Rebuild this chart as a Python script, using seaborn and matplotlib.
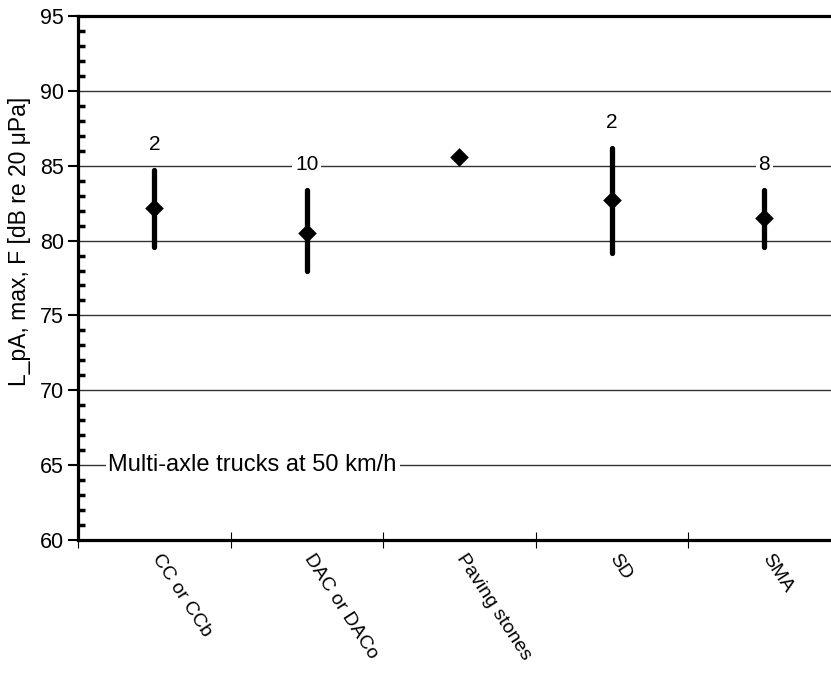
import matplotlib
matplotlib.use("Agg")
import matplotlib.pyplot as plt
from matplotlib.ticker import MultipleLocator, FixedLocator
from matplotlib.transforms import ScaledTranslation
import seaborn as sns
import pandas as pd
import numpy as np

# data
surfaces = ["CC or CCb", "DAC or DACo", "Paving stones", "SD", "SMA"]
mean_level = [82.2, 80.5, 85.6, 82.7, 81.5]
low_level = [79.6, 78.0, np.nan, 79.2, 79.6]
high_level = [84.7, 83.4, np.nan, 86.2, 83.4]
n_labels = ["2", "10", "", "2", "8"]

df = pd.DataFrame({"surface": surfaces, "mean": mean_level,
                   "low": low_level, "high": high_level, "n": n_labels})

sns.set_style("white")
plt.rcParams["font.family"] = ["Liberation Sans", "DejaVu Sans"]
plt.rcParams.update({"text.color": "black", "axes.labelcolor": "black",
                     "xtick.color": "black", "ytick.color": "black"})

fig = plt.figure(figsize=(8.31, 6.75), dpi=100)
ax = fig.add_axes([78 / 831, 135 / 675, 762.5 / 831, 524 / 675])

# grid lines
for g in [65, 70, 75, 80, 85, 90]:
    ax.axhline(g, color="#333333", lw=1.0, zorder=0)

# min-max bars
xpos = np.arange(len(surfaces))
ax.vlines(xpos, df["low"], df["high"], color="black", lw=3.8,
          capstyle="round", zorder=2)

# mean markers
sns.stripplot(data=df, x="surface", y="mean", marker="D", color="black",
              size=9.5, jitter=False, ax=ax, zorder=3)

# count labels
for i, row in df.iterrows():
    if row["n"]:
        ax.text(i, row["high"] + 1.7, row["n"], ha="center", va="center",
                fontsize=15, zorder=4,
                bbox=dict(facecolor="white", edgecolor="none", pad=2))

ax.text(-0.3, 65, "Multi-axle trucks at 50 km/h", ha="left", va="center",
        fontsize=17, zorder=4,
        bbox=dict(facecolor="white", edgecolor="none", pad=2))

ax.set_xlim(-0.5, 4.5)
ax.set_ylim(60, 95)
ax.set_xlabel("")
ax.set_ylabel("L_pA, max, F [dB re 20 μPa]", fontsize=16.5)
ax.yaxis.set_label_coords(-0.062, 0.569)

# y ticks
ax.yaxis.set_major_locator(MultipleLocator(5))
ax.yaxis.set_minor_locator(MultipleLocator(1))
ax.tick_params(axis="y", which="major", direction="out", length=7, width=1.5,
               labelsize=15.5, left=True, pad=3)
ax.tick_params(axis="y", which="minor", direction="in", length=5, width=2.5,
               left=True)

# x ticks: separators as major ticks, labels at category centres
ax.xaxis.set_major_locator(FixedLocator(np.arange(-0.5, 5.0, 1.0)))
ax.xaxis.set_minor_locator(FixedLocator(xpos))
ax.set_xticklabels([])
ax.set_xticklabels(surfaces, minor=True, rotation=-57, ha="left", va="top",
                   rotation_mode="anchor", fontsize=14)
ax.tick_params(axis="x", which="major", direction="inout", length=12,
               width=0.8, bottom=True)
ax.tick_params(axis="x", which="minor", length=0, pad=8)
shift = ScaledTranslation(6 / 72, 0, fig.dpi_scale_trans)
for lab in ax.get_xticklabels(minor=True):
    lab.set_transform(lab.get_transform() + shift)

for side in ["left", "bottom", "top"]:
    ax.spines[side].set_visible(True)
    ax.spines[side].set_linewidth(2.3)
    ax.spines[side].set_color("black")
ax.spines["right"].set_visible(False)

fig.savefig("out.png", dpi=100)
